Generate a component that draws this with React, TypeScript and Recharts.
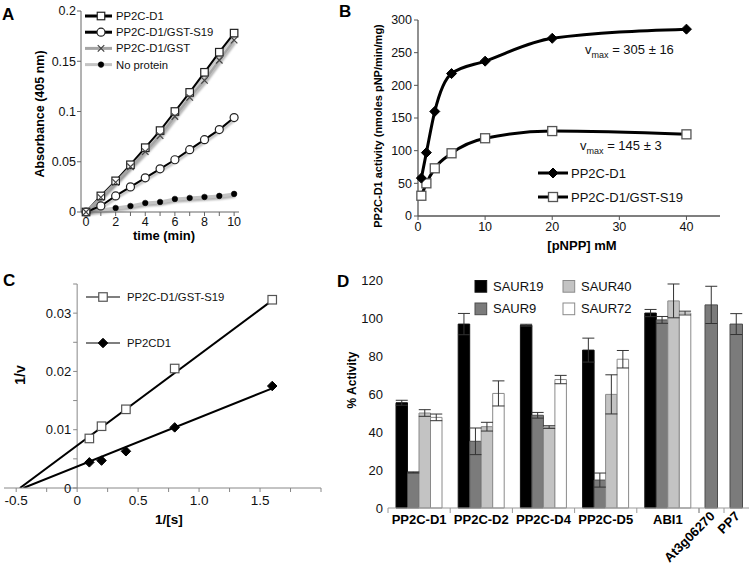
import React from 'react';
import { LineChart, Line, XAxis, YAxis, BarChart, Bar, ErrorBar, ComposedChart, ReferenceLine } from 'recharts';

const FONT = 'Arial, "Liberation Sans", Helvetica, sans-serif';

// ---------------- Panel A data ----------------
const timeMin = [0, 1, 2, 3, 4, 5, 6, 7, 8, 9, 10];
const absPP2CD1 = [0, 0.016, 0.031, 0.047, 0.064, 0.081, 0.1, 0.119, 0.139, 0.159, 0.178];
const absGSTS19 = [0, 0.006, 0.016, 0.025, 0.034, 0.043, 0.052, 0.062, 0.072, 0.082, 0.094];
const absGST = [0, 0.0146, 0.0295, 0.045, 0.06, 0.076, 0.095, 0.114, 0.131, 0.151, 0.171];
const absNoProtein = [0, 0.002, 0.004, 0.006, 0.009, 0.01, 0.013, 0.014, 0.015, 0.016, 0.018];
const noProteinMarkersFrom = 2;
const aYTicks = [0, 0.05, 0.1, 0.15, 0.2];
const aLegend = ['PP2C-D1', 'PP2C-D1/GST-S19', 'PP2C-D1/GST', 'No protein'];

// ---------------- Panel B data ----------------
const pnppMM = [0.5, 1.25, 2.5, 5, 10, 20, 40];
const actPP2CD1 = [58, 97, 160, 218, 237, 272, 286];
const actGSTS19 = [31, 50, 73, 96, 119, 130, 125];
const bXTicks = [0, 10, 20, 30, 40];
const bYTicks = [0, 50, 100, 150, 200, 250, 300];
const bLegend = ['PP2C-D1', 'PP2C-D1/GST-S19'];
const vmaxTexts = ['305 ± 16', '145 ± 3'];

// ---------------- Panel C data ----------------
const invS = [0.1, 0.2, 0.4, 0.8, 1.6];
const invVGSTS19 = [0.0085, 0.0106, 0.0135, 0.0205, 0.0323];
const invVPP2CD1 = [0.0044, 0.0047, 0.0063, 0.0104, 0.0175];
const fitGSTS19 = { slope: 0.01556, intercept: 0.0073 };
const fitPP2CD1 = { slope: 0.00838, intercept: 0.00369 };
const cXTicks = [-0.5, -0.25, 0, 0.25, 0.5, 0.75, 1, 1.25, 1.5, 1.75, 2];
const cXLabeled = [-0.5, 0, 0.5, 1, 1.5];
const cYTicks = [0, 0.005, 0.01, 0.015, 0.02, 0.025, 0.03, 0.035];
const cYLabeled = [0, 0.01, 0.02, 0.03];
const cLegend = ['PP2C-D1/GST-S19', 'PP2CD1'];

// ---------------- Panel D data ----------------
const dCategories = ['PP2C-D1', 'PP2C-D2', 'PP2C-D4', 'PP2C-D5', 'ABI1'];
const saur19 = [55.4, 96.8, 96.2, 83.1, 102.6];
const saur19Err = [1.3, 5.6, 0.5, 6.3, 1.9];
const saur9 = [18.7, 35.1, 48.8, 14.7, 99.0];
const saur9Err = [0.3, 7.0, 1.5, 3.7, 1.8];
const saur40 = [50.0, 42.8, 42.6, 59.8, 109.0];
const saur40Err = [1.75, 2.3, 0.7, 10.3, 8.9];
const saur72 = [47.7, 60.3, 67.6, 78.3, 102.6];
const saur72Err = [1.75, 6.6, 2.2, 4.6, 1.0];
const otherCategories = ['At3g06270', 'PP7'];
const otherValues = [106.9, 96.8];
const otherErr = [9.8, 5.5];
const dYTicks = [0, 20, 40, 60, 80, 100, 120];
const dSeriesNames = ['SAUR19', 'SAUR9', 'SAUR40', 'SAUR72'];

// ---------------- styles ----------------
type Kind = 'square' | 'circle' | 'diamond' | 'x';
interface MStyle { kind: Kind; size: number; fill: string; stroke: string; sw: number }

function Marker({ kind, x, y, size, fill, stroke, sw }: MStyle & { x: number; y: number }) {
  const h = size / 2;
  if (kind === 'square') return <rect x={x - h} y={y - h} width={size} height={size} fill={fill} stroke={stroke} strokeWidth={sw} />;
  if (kind === 'circle') return <circle cx={x} cy={y} r={h} fill={fill} stroke={stroke} strokeWidth={sw} />;
  if (kind === 'diamond') return <path d={`M${x},${y - h}L${x + h},${y}L${x},${y + h}L${x - h},${y}Z`} fill={fill} stroke={stroke} strokeWidth={sw} />;
  return <path d={`M${x - h},${y - h}L${x + h},${y + h}M${x - h},${y + h}L${x + h},${y - h}`} fill="none" stroke={stroke} strokeWidth={sw} />;
}

const makeDot = (st: MStyle, fromIndex = 0) => (p: any) => {
  const k = `dot-${p.index}`;
  if (p.cx == null || p.cy == null || p.index < fromIndex) return <g key={k} />;
  return <g key={k}><Marker {...st} x={p.cx} y={p.cy} /></g>;
};

const aStyles: { line: string; lw: number; m: MStyle }[] = [
  { line: '#000', lw: 2, m: { kind: 'square', size: 7.5, fill: '#fff', stroke: '#222', sw: 1.2 } },
  { line: '#000', lw: 2, m: { kind: 'circle', size: 8, fill: '#fff', stroke: '#222', sw: 1.2 } },
  { line: '#a5a5a5', lw: 2.5, m: { kind: 'x', size: 6.5, fill: 'none', stroke: '#444', sw: 1.2 } },
  { line: '#c4c4c4', lw: 3, m: { kind: 'circle', size: 5.6, fill: '#000', stroke: '#000', sw: 0.5 } },
];
const bStyles: { line: string; lw: number; m: MStyle }[] = [
  { line: '#000', lw: 3, m: { kind: 'diamond', size: 10, fill: '#000', stroke: '#000', sw: 1 } },
  { line: '#000', lw: 3, m: { kind: 'square', size: 9, fill: '#fff', stroke: '#555', sw: 1.3 } },
];
const cStyles: MStyle[] = [
  { kind: 'square', size: 8.5, fill: '#fff', stroke: '#555', sw: 1.2 },
  { kind: 'diamond', size: 9.5, fill: '#000', stroke: '#000', sw: 1 },
];
const dFills = ['#000000', '#7b7b7b', '#c3c3c3', '#ffffff'];
const dStrokes = ['#111111', '#4d4d4d', '#8a8a8a', '#8a8a8a'];

const tickStyle = (fs: number) => ({ fontSize: fs, fill: '#111', fontFamily: FONT });

// ---------------- derived tables ----------------
const aRows = timeMin.map((t, i) => ({ t, d1: absPP2CD1[i], s19: absGSTS19[i], gst: absGST[i], np: absNoProtein[i] }));
const bRows = pnppMM.map((s, i) => ({ s, d1: actPP2CD1[i], s19: actGSTS19[i] }));
const cS19Pts = invS.map((x, i) => ({ x, y: invVGSTS19[i] }));
const cD1Pts = invS.map((x, i) => ({ x, y: invVPP2CD1[i] }));
const xMaxS = Math.max(...invS);
const fitLine = (f: { slope: number; intercept: number }) => [
  { x: -f.intercept / f.slope, y: 0 },
  { x: xMaxS, y: f.intercept + f.slope * xMaxS },
];
const dRows = dCategories.map((cat, i) => ({
  cat, s19: saur19[i], e19: saur19Err[i], s9: saur9[i], e9: saur9Err[i],
  s40: saur40[i], e40: saur40Err[i], s72: saur72[i], e72: saur72Err[i],
}));
const d2Rows = otherCategories.map((cat, i) => ({ cat, v: otherValues[i], e: otherErr[i] }));

// ---------------- layout constants ----------------
const C_W = 330, C_H = 270, C_M = { top: 14, right: 9, left: 3, bottom: 12 }, C_YW = 1;
const cXDomain: [number, number] = [-0.6, 2.0];
const cPlotW = C_W - C_M.left - C_M.right - C_YW;
const cXZero = C_M.left + C_YW + ((0 - cXDomain[0]) / (cXDomain[1] - cXDomain[0])) * cPlotW;

const D1_W = 369, D1_YW = 58;
const D1_BAND = (D1_W - D1_YW) / dCategories.length;
const D2_W = 50;
const D2_BAND = D2_W / otherCategories.length;
const D_AXIS = '#9a9a9a';

const CYTick = (props: any) => {
  const { y, payload } = props;
  const v = payload.value as number;
  const labeled = cYLabeled.some((l) => Math.abs(l - v) < 1e-9);
  return (
    <g>
      <line x1={cXZero - 4} x2={cXZero} y1={y} y2={y} stroke="#888" />
      {labeled && (
        <text x={cXZero - 6} y={y} dy="0.35em" textAnchor="end" fontSize={13} fill="#111" fontFamily={FONT}>
          {v === 0 ? '0' : v.toFixed(2)}
        </text>
      )}
    </g>
  );
};

const D1Tick = (props: any) => {
  const { x, y, payload, index } = props;
  const left = x - D1_BAND / 2;
  return (
    <g>
      <line x1={left} x2={left} y1={y} y2={y + 5} stroke={D_AXIS} />
      {index === dCategories.length - 1 && <line x1={x + D1_BAND / 2} x2={x + D1_BAND / 2} y1={y} y2={y + 5} stroke={D_AXIS} />}
      <text x={x} y={y + 16} textAnchor="middle" fontSize={13} fontWeight="bold" fill="#000" fontFamily={FONT}>
        {payload.value}
      </text>
    </g>
  );
};

const D2Tick = (props: any) => {
  const { x, y, payload } = props;
  return (
    <g>
      <line x1={x - D2_BAND / 2} x2={x - D2_BAND / 2} y1={y} y2={y + 5} stroke={D_AXIS} />
      <text transform={`translate(${x + 4},${y + 9}) rotate(-45)`} textAnchor="end" fontSize={13} fontWeight="bold" fill="#000" fontFamily={FONT}>
        {payload.value}
      </text>
    </g>
  );
};

function LegendRow({ y, x1, x2, mx, tx, line, lw, m, label, fs }: { y: number; x1: number; x2: number; mx: number; tx: number; line: string; lw: number; m: MStyle; label: string; fs: number }) {
  return (
    <g>
      <line x1={x1} x2={x2} y1={y} y2={y} stroke={line} strokeWidth={lw} />
      <Marker {...m} x={mx} y={y} />
      <text x={tx} y={y} dy="0.36em" fontSize={fs} fill="#111" fontFamily={FONT}>{label}</text>
    </g>
  );
}

const css = `
.recharts-surface { overflow: visible; }
.shadowline .recharts-line-curve { filter: drop-shadow(1.5px 2px 1.2px rgba(0,0,0,0.35)); }
`;

export default function App() {
  return (
    <div style={{ position: 'fixed', left: 0, top: 0, width: 749, height: 564, background: '#fff', overflow: 'hidden', fontFamily: FONT }}>
      <style>{css}</style>
      {/* Panel A */}
      <div style={{ position: 'absolute', left: 0, top: 0 }}>
        <LineChart width={250} height={252} data={aRows} margin={{ top: 11, right: 11, left: 0, bottom: 2 }}>
          <XAxis dataKey="t" type="number" domain={[-0.34, 10.33]} ticks={timeMin} interval={0}
            tickFormatter={(v: number) => (v % 2 === 0 ? String(v) : '')}
            axisLine={{ stroke: '#666' }} tickLine={{ stroke: '#666' }} tickSize={4} tickMargin={1}
            tick={tickStyle(12.5)} height={38} allowDataOverflow />
          <YAxis type="number" domain={[0, 0.2]} ticks={aYTicks} interval={0} tickFormatter={(v: number) => String(v)}
            axisLine={{ stroke: '#666' }} tickLine={{ stroke: '#666' }} tickSize={4} tickMargin={1}
            tick={tickStyle(12.5)} width={81} />
          <Line className="shadowline" dataKey="np" stroke={aStyles[3].line} strokeWidth={aStyles[3].lw} dot={makeDot(aStyles[3].m, noProteinMarkersFrom)} isAnimationActive={false} />
          <Line className="shadowline" dataKey="s19" stroke={aStyles[1].line} strokeWidth={aStyles[1].lw} dot={makeDot(aStyles[1].m)} isAnimationActive={false} />
          <Line className="shadowline" dataKey="d1" stroke={aStyles[0].line} strokeWidth={aStyles[0].lw} dot={makeDot(aStyles[0].m)} isAnimationActive={false} />
          <Line className="shadowline" dataKey="gst" stroke={aStyles[2].line} strokeWidth={aStyles[2].lw} dot={makeDot(aStyles[2].m)} isAnimationActive={false} />
        </LineChart>
      </div>

      {/* Panel B */}
      <div style={{ position: 'absolute', left: 330, top: 0 }}>
        <LineChart width={400} height={260} data={bRows} margin={{ top: 20, right: 10, left: 0, bottom: 4 }}>
          <XAxis dataKey="s" type="number" domain={[0, 45]} ticks={bXTicks} interval={0}
            axisLine={{ stroke: '#555', strokeWidth: 1.3 }} tickLine={{ stroke: '#555' }} tickSize={4} tickMargin={2}
            tick={tickStyle(12.5)} height={40} />
          <YAxis type="number" domain={[0, 300]} ticks={bYTicks} interval={0}
            axisLine={{ stroke: '#555', strokeWidth: 1.3 }} tickLine={{ stroke: '#555' }} tickSize={4} tickMargin={2}
            tick={tickStyle(12.5)} width={88} />
          <Line type="monotone" dataKey="s19" stroke={bStyles[1].line} strokeWidth={bStyles[1].lw} dot={makeDot(bStyles[1].m)} isAnimationActive={false} />
          <Line type="monotone" dataKey="d1" stroke={bStyles[0].line} strokeWidth={bStyles[0].lw} dot={makeDot(bStyles[0].m)} isAnimationActive={false} />
        </LineChart>
      </div>

      {/* Panel C */}
      <div style={{ position: 'absolute', left: 0, top: 270 }}>
        <ComposedChart width={C_W} height={C_H} margin={C_M}>
          <XAxis dataKey="x" type="number" domain={cXDomain} ticks={cXTicks} interval={0}
            tickFormatter={(v: number) => (cXLabeled.includes(v) ? (v === 0 ? '0' : v.toFixed(1)) : '')}
            axisLine={{ stroke: '#888' }} tickLine={{ stroke: '#888' }} tickSize={4} tickMargin={3}
            tick={tickStyle(13.5)} height={40} allowDataOverflow />
          <YAxis dataKey="y" type="number" domain={[0, 0.035]} ticks={cYTicks} interval={0}
            axisLine={false} tickLine={false} tick={<CYTick />} width={C_YW} allowDataOverflow />
          <ReferenceLine x={0} stroke="#888" />
          <Line data={fitLine(fitGSTS19)} dataKey="y" stroke="#000" strokeWidth={2} dot={false} isAnimationActive={false} />
          <Line data={fitLine(fitPP2CD1)} dataKey="y" stroke="#000" strokeWidth={2} dot={false} isAnimationActive={false} />
          <Line data={cS19Pts} dataKey="y" stroke="none" dot={makeDot(cStyles[0])} isAnimationActive={false} />
          <Line data={cD1Pts} dataKey="y" stroke="none" dot={makeDot(cStyles[1])} isAnimationActive={false} />
        </ComposedChart>
      </div>

      {/* Panel D main groups */}
      <div style={{ position: 'absolute', left: 330, top: 262 }}>
        <BarChart width={D1_W} height={276} data={dRows} margin={{ top: 18, right: 0, left: 0, bottom: 0 }} barGap={0} barSize={11.5}>
          <XAxis dataKey="cat" axisLine={{ stroke: D_AXIS }} tickLine={false} tickSize={0} tickMargin={0} tick={<D1Tick />} height={30} interval={0} />
          <YAxis domain={[0, 120]} ticks={dYTicks} interval={0} axisLine={false} tickLine={false} tickSize={3} tickMargin={2}
            tick={tickStyle(13)} width={D1_YW} />
          {['s19', 's9', 's40', 's72'].map((k, i) => (
            <Bar key={k} dataKey={k} name={dSeriesNames[i]} fill={dFills[i]} stroke={dStrokes[i]} strokeWidth={1} isAnimationActive={false}>
              <ErrorBar dataKey={['e19', 'e9', 'e40', 'e72'][i]} width={6} stroke="#333" strokeWidth={1} direction="y" />
            </Bar>
          ))}
        </BarChart>
      </div>

      {/* Panel D other phosphatases */}
      <div style={{ position: 'absolute', left: 699, top: 262 }}>
        <BarChart width={D2_W} height={302} data={d2Rows} margin={{ top: 18, right: 0, left: 0, bottom: 0 }} barSize={12.5}>
          <XAxis dataKey="cat" axisLine={{ stroke: D_AXIS }} tickLine={false} tickSize={0} tickMargin={0} tick={<D2Tick />} height={56} interval={0} />
          <YAxis hide domain={[0, 120]} />
          <Bar dataKey="v" name="SAUR9" fill={dFills[1]} stroke={dStrokes[1]} strokeWidth={1} isAnimationActive={false}>
            <ErrorBar dataKey="e" width={6} stroke="#333" strokeWidth={1} direction="y" />
          </Bar>
        </BarChart>
      </div>

      {/* Overlay: panel letters, titles, legends, annotations */}
      <svg width={749} height={564} style={{ position: 'absolute', left: 0, top: 0, pointerEvents: 'none' }} fontFamily={FONT}>
        <g fontWeight="bold" fontSize={17} fill="#000">
          <text x={2} y={20}>A</text>
          <text x={339} y={17}>B</text>
          <text x={3} y={286}>C</text>
          <text x={337} y={287}>D</text>
        </g>
        <g fontWeight="bold" fill="#000" textAnchor="middle">
          <text transform="translate(40,114) rotate(-90)" dy="0.35em" fontSize={12.5}>Absorbance (405 nm)</text>
          <text x={164} y={235} dy="0.35em" fontSize={13}>time (min)</text>
          <text transform="translate(378,126) rotate(-90)" dy="0.35em" fontSize={11}>PP2C-D1 activity (nmoles pNP/min/mg)</text>
          <text x={582} y={245} dy="0.35em" fontSize={13}>[pNPP] mM</text>
          <text transform="translate(20,375) rotate(-90)" dy="0.35em" fontSize={14}>1/v</text>
          <text x={169} y={519} dy="0.35em" fontSize={13.5}>1/[s]</text>
          <text transform="translate(352,380) rotate(-90)" dy="0.35em" fontSize={12}>% Activity</text>
        </g>
        {/* legend A */}
        {aLegend.map((lab, i) => (
          <LegendRow key={lab} y={16 + i * 16.2} x1={85} x2={112} mx={101} tx={116} line={aStyles[i].line} lw={3} m={aStyles[i].m} label={lab} fs={11.3} />
        ))}
        {/* legend B */}
        {bLegend.map((lab, i) => (
          <LegendRow key={lab} y={173 + i * 24} x1={538} x2={568} mx={553} tx={571} line={bStyles[i].line} lw={3} m={bStyles[i].m} label={lab} fs={13} />
        ))}
        {/* vmax annotations */}
        <g fontSize={13} fill="#111">
          <text x={585} y={53.5}>v<tspan dy={4} fontSize={9}>max</tspan><tspan dy={-4}> = {vmaxTexts[0]}</tspan></text>
          <text x={580} y={150}>v<tspan dy={4} fontSize={9}>max</tspan><tspan dy={-4}> = {vmaxTexts[1]}</tspan></text>
        </g>
        {/* legend C */}
        {cLegend.map((lab, i) => (
          <LegendRow key={lab} y={297 + i * 46} x1={86} x2={120} mx={103} tx={127} line="#555" lw={1.3} m={cStyles[i]} label={lab} fs={11.3} />
        ))}
        {/* legend D */}
        {dSeriesNames.map((lab, i) => {
          const cx = [475, 475, 563, 563][i];
          const cy = [280.5, 303, 280.5, 303][i];
          return (
            <g key={lab}>
              <rect x={cx} y={cy} width={11.7} height={11.7} fill={dFills[i]} stroke={dStrokes[i]} strokeWidth={1} />
              <text x={cx + 18} y={cy + 10.2} fontSize={13} fill="#111">{lab}</text>
            </g>
          );
        })}
      </svg>
    </div>
  );
}
